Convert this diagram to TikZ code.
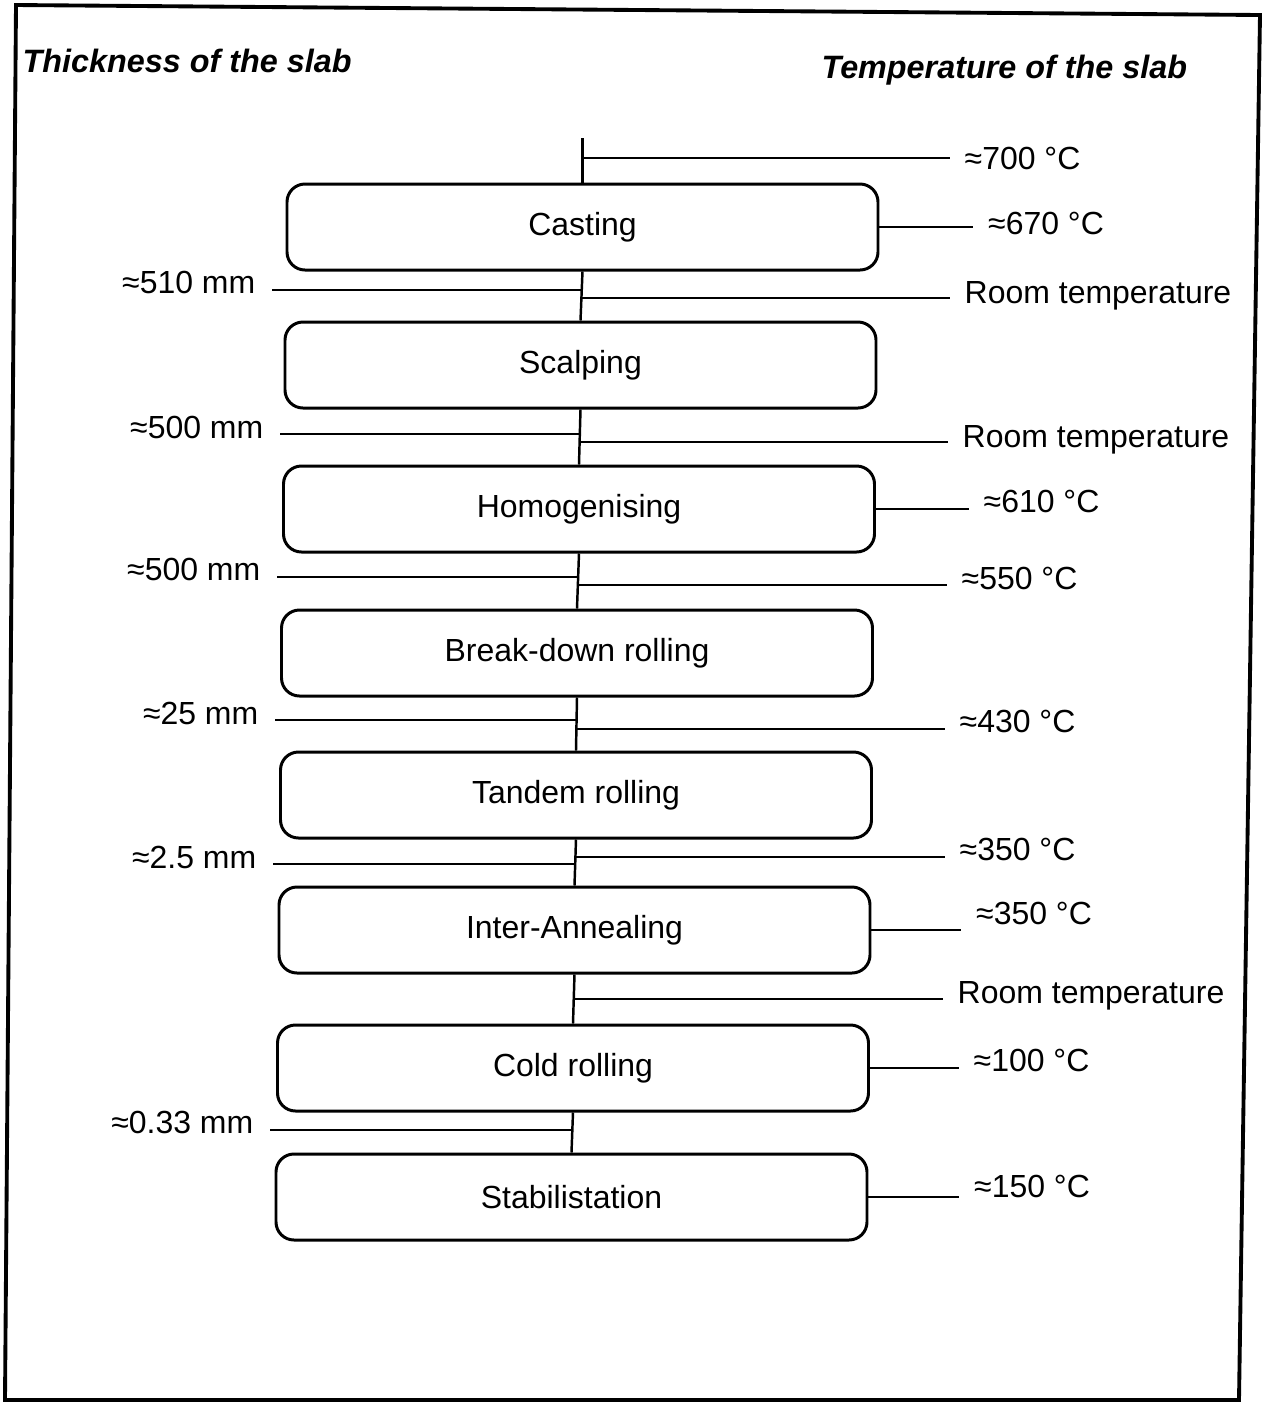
\documentclass[tikz,border=0pt]{standalone}
\usepackage{fontspec}
\setmainfont{Liberation Sans}
\usetikzlibrary{positioning}
\tikzset{
  stepbox/.style={draw, rounded corners=0.18cm, line width=0.85pt, minimum width=5.91cm, minimum height=0.86cm, inner sep=0pt},
  lead/.style={line width=0.7pt},
  templabel/.style={anchor=base west, inner xsep=0.14cm, inner ysep=0pt, yshift=-0.03cm},
  thicklabel/.style={anchor=base east, inner xsep=0.16cm, inner ysep=0pt, yshift=-0.03cm},
  headlabel/.style={anchor=base west, inner sep=0pt, font=\fontsize{9.2pt}{11pt}\selectfont\bfseries\itshape}
}
\begin{document}
\begin{tikzpicture}[font=\fontsize{9.1pt}{11pt}\selectfont]
\useasboundingbox (0,0) rectangle (12.67,-14.02);
\draw[line width=1.1pt] (0.16,-0.05) -- (12.60,-0.15) -- (12.39,-14.00) -- (0.05,-14.00) -- cycle;

\node[headlabel] (hthick) at (0.22,-0.72) {Thickness of the slab};
\node[headlabel] (htemp) at (8.21,-0.78) {Temperature of the slab};

\node[stepbox] (cast) at (5.825,-2.27) {Casting};
\node[stepbox] (scal) at (5.805,-3.65) {Scalping};
\node[stepbox] (homo) at (5.79,-5.09) {Homogenising};
\node[stepbox] (brea) at (5.77,-6.53) {Break-down rolling};
\node[stepbox] (tand) at (5.76,-7.95) {Tandem rolling};
\node[stepbox] (inte) at (5.745,-9.30) {Inter-Annealing};
\node[stepbox] (cold) at (5.73,-10.68) {Cold rolling};
\node[stepbox] (stab) at (5.715,-11.97) {Stabilistation};

\coordinate (top) at (5.825,-1.38);
\draw[lead] (top) -- (cast.north);
\draw[lead] (cast.south) -- (scal.north);
\draw[lead] (scal.south) -- (homo.north);
\draw[lead] (homo.south) -- (brea.north);
\draw[lead] (brea.south) -- (tand.north);
\draw[lead] (tand.south) -- (inte.north);
\draw[lead] (inte.south) -- (cold.north);
\draw[lead] (cold.south) -- (stab.north);

\coordinate (j700) at (5.825,-1.58);
\coordinate (j510) at (5.815,-2.90);
\coordinate (jr1) at (5.815,-2.98);
\coordinate (j500a) at (5.80,-4.34);
\coordinate (jr2) at (5.80,-4.42);
\coordinate (j500b) at (5.78,-5.77);
\coordinate (j550) at (5.78,-5.85);
\coordinate (j25) at (5.765,-7.20);
\coordinate (j430) at (5.765,-7.29);
\coordinate (j2p5) at (5.75,-8.64);
\coordinate (j350) at (5.75,-8.57);
\coordinate (jr3) at (5.74,-9.99);
\coordinate (j033) at (5.72,-11.30);

\node[templabel] (t700) at (9.50,-1.66) {≈700 °C};
\node[templabel] (t670) at ([xshift=0.94cm, yshift=-0.04cm]cast.east) {≈670 °C};
\node[templabel] (tr1) at (9.50,-3.00) {Room temperature};
\node[templabel] (tr2) at (9.48,-4.44) {Room temperature};
\node[templabel] (t610) at ([xshift=0.93cm]homo.east) {≈610 °C};
\node[templabel] (t550) at (9.47,-5.86) {≈550 °C};
\node[templabel] (t430) at (9.45,-7.29) {≈430 °C};
\node[templabel] (t350a) at (9.45,-8.57) {≈350 °C};
\node[templabel] (t350b) at ([xshift=0.90cm, yshift=0.09cm]inte.east) {≈350 °C};
\node[templabel] (tr3) at (9.43,-10.00) {Room temperature};
\node[templabel] (t100) at ([xshift=0.89cm]cold.east) {≈100 °C};
\node[templabel] (t150) at ([xshift=0.91cm, yshift=0.03cm]stab.east) {≈150 °C};

\node[thicklabel] (l510) at (2.72,-2.90) {≈510 mm};
\node[thicklabel] (l500a) at (2.80,-4.35) {≈500 mm};
\node[thicklabel] (l500b) at (2.77,-5.77) {≈500 mm};
\node[thicklabel] (l25) at (2.75,-7.21) {≈25 mm};
\node[thicklabel] (l2p5) at (2.73,-8.65) {≈2.5 mm};
\node[thicklabel] (l033) at (2.70,-11.30) {≈0.33 mm};

\draw[lead] (j700) -- (j700 -| t700.west);
\draw[lead] (cast.east) -- (cast.east -| t670.west);
\draw[lead] (jr1) -- (jr1 -| tr1.west);
\draw[lead] (jr2) -- (jr2 -| tr2.west);
\draw[lead] (homo.east) -- (homo.east -| t610.west);
\draw[lead] (j550) -- (j550 -| t550.west);
\draw[lead] (j430) -- (j430 -| t430.west);
\draw[lead] (j350) -- (j350 -| t350a.west);
\draw[lead] (inte.east) -- (inte.east -| t350b.west);
\draw[lead] (jr3) -- (jr3 -| tr3.west);
\draw[lead] (cold.east) -- (cold.east -| t100.west);
\draw[lead] (stab.east) -- (stab.east -| t150.west);

\draw[lead] (l510.east |- j510) -- (j510);
\draw[lead] (l500a.east |- j500a) -- (j500a);
\draw[lead] (l500b.east |- j500b) -- (j500b);
\draw[lead] (l25.east |- j25) -- (j25);
\draw[lead] (l2p5.east |- j2p5) -- (j2p5);
\draw[lead] (l033.east |- j033) -- (j033);
\end{tikzpicture}
\end{document}
